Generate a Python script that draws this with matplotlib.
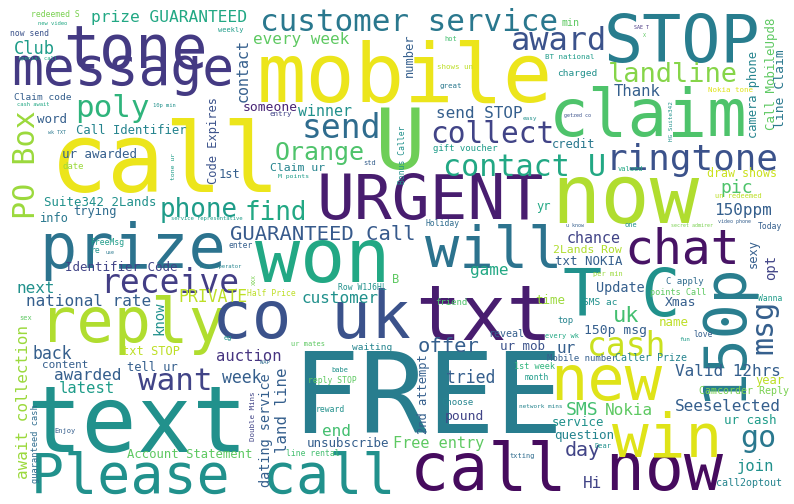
import matplotlib
matplotlib.use("Agg")
import matplotlib.pyplot as plt

# word cloud of spam terms: words and their weights (font size in px ~ frequency)
big_words = ["call", "FREE", "mobile", "text", "txt", "now", "won", "T C",
             "claim", "STOP", "tone", "prize", "reply", "co uk", "call now",
             "Please call", "new", "win", "URGENT", "message", "will", "chat",
             "U", "150p"]
big_weights = [96, 113, 82, 92, 76, 82, 75, 65,
               66, 65, 60, 62, 62, 66, 65,
               55, 62, 61, 63, 53, 57, 48,
               84, 58]

mid_words = ["receive", "send", "cash", "ringtone", "customer service", "award",
             "collect", "contact U", "want", "poly", "PO Box", "msg", "go",
             "landline", "phone", "find", "Orange", "uk", "GUARANTEED Call",
             "offer", "day"]
mid_weights = [33, 33, 33, 36, 31, 32,
               29.5, 30, 31, 31, 30, 30, 30,
               27, 26, 26, 25, 22, 20.5,
               20.5, 20]

small_words = ["prize GUARANTEED", "every week", "Club", "Thank", "contact", "winner",
               "send STOP", "chance", "pic", "150ppm", "next", "PRIVATE",
               "national rate", "customer", "game", "back", "auction", "awarded",
               "week", "latest", "await collection", "land line", "tried", "end",
               "Free entry", "Valid 12hrs", "SMS", "Nokia", "Seeselected", "join",
               "Hi", "ur", "know", "dating service", "Update", "opt"]
small_weights = [16.3, 16, 17, 15.6, 15, 15,
                 16, 15, 18, 16, 16, 16.5,
                 16, 16, 16, 16.5, 15.5, 16,
                 16.5, 15.5, 16, 15.8, 16.5, 16,
                 15.3, 16, 18, 16, 16, 15.5,
                 16, 16, 14, 13.5, 13.5, 14]

minor_words = ["Call Identifier", "word", "ur awarded", "someone", "Code Expires", "1st",
               "number", "credit", "camera phone", "Call MobileUpd8", "line Claim",
               "Suite342 2Lands", "info", "trying", "Identifier Code", "txt STOP",
               "content", "tell ur", "Account Statement", "2nd attempt", "pound",
               "unsubscribe", "ur mob", "Claim ur", "draw shows", "yr", "2Lands Row",
               "txt NOKIA", "sexy", "time", "Xmas", "name", "150p msg", "year",
               "service", "ur cash", "question", "B", "min", "reveal"]
minor_weights = [12.3, 12.5, 12.5, 13, 12, 12,
                 12, 12, 12, 12.4, 13,
                 12.4, 12, 12, 12.5, 12,
                 11, 12, 12.3, 12, 13,
                 12.5, 12.5, 11.5, 11.6, 12, 11.5,
                 12.4, 12, 12.5, 13, 12.5, 13, 12,
                 12.4, 12.5, 12.5, 12, 10, 10]

tiny_words = ["redeemed S", "new video", "now send", "special call", "Claim code",
              "cash await", "10p min", "wk TXT", "date", "tone ur", "weekly", "hot",
              "shows un", "great", "entry", "Bonus Caller", "gift voucher", "std",
              "M points", "easy", "SAE T", "X", "BT national", "charged",
              "Nokia tone", "getzed co", "HG Suite342", "valued", "un redeemed",
              "u know", "one", "secret admirer", "video phone", "Today", "per min",
              "C apply", "points Call", "SMS ac", "Wanna", "top", "every wk", "love",
              "fun", "Mobile number", "Caller Prize", "1st week", "month",
              "network mins", "Camcorder Reply", "Dear", "call2optout", "txting",
              "sex", "XXX", "eg", "WAP", "Enjoy", "guaranteed cash", "Double Mins",
              "ur mates", "waiting", "babe", "reply STOP", "reward", "Choose",
              "line rental", "Holiday", "Row W1J6HL", "Half Price", "friend",
              "service representative", "FreeMsg", "re", "use", "enter",
              "live operator"]
tiny_weights = [8, 5.5, 8, 5.5, 9.5,
                5.5, 5.5, 5, 9, 6.5, 7, 7,
                7.5, 7.5, 7.5, 8, 9, 7,
                6.5, 6, 5, 5, 7.5, 9.5,
                7.5, 5, 6, 7, 7,
                5, 7, 5, 5, 8, 7,
                9, 8.5, 9.5, 8, 9, 7, 8,
                6, 9, 10, 8.5, 8,
                6, 10, 7, 10, 7,
                7, 6, 7, 5.5, 7, 8.6, 7.5,
                7, 9.5, 7, 8, 8, 9,
                8, 8, 8, 8, 9,
                5.5, 8, 8, 5, 8,
                5.5]

# layout: centre x, baseline y (px), rotation, viridis shade
spots = {
    "call": (165, 192, 0, 0.97), "FREE": (427, 433, 0, 0.42),
    "mobile": (405, 102, 0, 0.97), "text": (137, 452, 0, 0.5),
    "txt": (484, 340, 0, 0.08), "now": (625, 223, 0, 0.88),
    "won": (323, 282, 0, 0.6), "T C": (622, 316, 0, 0.5),
    "claim": (648, 136, 0, 0.72), "STOP": (682, 62, 0, 0.42),
    "tone": (135, 68, 0, 0.17), "prize": (133, 268, 0, 0.38),
    "reply": (132, 342, 0, 0.88), "co uk": (311, 338, 0, 0.25),
    "call now": (566, 490, 0, 0.03), "Please call": (213, 493, 0, 0.5),
    "new": (606, 400, 0, 0.95), "win": (667, 456, 0, 0.95),
    "URGENT": (430, 219, 0, 0.08), "message": (123, 85, 0, 0.17),
    "will": (494, 267, 0, 0.38), "chat": (682, 264, 0, 0.05),
    "U": (400, 169, 0, 0.78), "150p": (740, 331, 90, 0.42),

    "receive": (170, 293, 0, 0.18), "send": (341, 138, 0, 0.35),
    "cash": (627, 356, 0, 0.92), "ringtone": (692, 170, 0, 0.25),
    "customer service": (409, 31, 0, 0.4), "award": (559, 50, 0, 0.25),
    "collect": (492, 143, 0, 0.2), "contact U": (525, 176, 0, 0.6),
    "want": (175, 390, 0, 0.2), "poly": (112, 117, 0, 0.65),
    "PO Box": (35, 165, 90, 0.85), "msg": (772, 327, 90, 0.3),
    "go": (758, 447, 0, 0.4), "landline": (673, 82, 0, 0.82),
    "phone": (199, 217, 0, 0.55), "find": (276, 220, 0, 0.6),
    "Orange": (320, 160, 0, 0.72), "uk": (626, 322, 0, 0.7),
    "GUARANTEED Call": (323, 240, 0, 0.28), "offer": (449, 352, 0, 0.3),
    "day": (583, 456, 0, 0.2),

    "prize GUARANTEED": (169, 22, 0, 0.6), "every week": (301, 44, 0, 0.75),
    "Club": (34, 54, 0, 0.55), "Thank": (637, 96, 0, 0.3),
    "contact": (248, 70, 90, 0.3), "winner": (325, 116, 0, 0.5),
    "send STOP": (479, 118, 0, 0.3), "chance": (594, 243, 0, 0.2),
    "pic": (737, 193, 0, 0.72), "150ppm": (743, 215, 0, 0.3),
    "next": (36, 293, 0, 0.5), "PRIVATE": (213, 302, 0, 0.9),
    "national rate": (89, 306, 0, 0.3), "customer": (340, 303, 0, 0.5),
    "game": (489, 275, 0, 0.6), "back": (52, 359, 0, 0.3),
    "auction": (249, 361, 0, 0.15), "awarded": (88, 380, 0, 0.3),
    "week": (242, 383, 0, 0.3), "latest": (87, 393, 0, 0.55),
    "await collection": (28, 402, 90, 0.85), "land line": (287, 410, 90, 0.3),
    "tried": (471, 383, 0, 0.3), "end": (336, 436, 0, 0.7),
    "Free entry": (439, 448, 0, 0.75), "Valid 12hrs": (728, 376, 0, 0.3),
    "SMS": (582, 415, 0, 0.7), "Nokia": (629, 415, 0, 0.75),
    "Seeselected": (728, 411, 0, 0.3), "join": (755, 471, 0, 0.5),
    "Hi": (593, 488, 0, 0.2), "ur": (566, 353, 0, 0.3),
    "know": (163, 318, 90, 0.5), "dating service": (270, 430, 90, 0.3),
    "Update": (620, 292, 0, 0.3), "opt": (775, 267, 90, 0.2),

    "Call Identifier": (131, 134, 0, 0.45), "word": (52, 123, 0, 0.3),
    "ur awarded": (100, 158, 0, 0.3), "someone": (270, 111, 0, 0.1),
    "Code Expires": (217, 140, 90, 0.25), "1st": (229, 178, 0, 0.3),
    "number": (413, 55, 90, 0.3), "credit": (574, 148, 0, 0.4),
    "camera phone": (757, 94, 90, 0.45), "Call MobileUpd8": (775, 74, 90, 0.75),
    "line Claim": (784, 89, 90, 0.4), "Suite342 2Lands": (100, 206, 0, 0.5),
    "info": (54, 222, 0, 0.4), "trying": (95, 215, 0, 0.35),
    "Identifier Code": (121, 271, 0, 0.2), "txt STOP": (151, 355, 0, 0.9),
    "content": (65, 368, 0, 0.3), "tell ur": (152, 371, 0, 0.3),
    "Account Statement": (190, 458, 0, 0.75), "2nd attempt": (427, 394, 90, 0.3),
    "pound": (464, 420, 0, 0.2), "unsubscribe": (348, 447, 0, 0.3),
    "ur mob": (522, 350, 0, 0.25), "Claim ur": (298, 171, 0, 0.45),
    "draw shows": (742, 177, 0, 0.92), "yr": (544, 210, 0, 0.6),
    "2Lands Row": (587, 253, 0, 0.88), "txt NOKIA": (589, 265, 0, 0.3),
    "sexy": (757, 253, 90, 0.3), "time": (550, 304, 0, 0.85),
    "Xmas": (681, 306, 0, 0.3), "name": (674, 326, 0, 0.9),
    "150p msg": (615, 334, 0, 0.3), "year": (770, 384, 0, 0.9),
    "service": (578, 426, 0, 0.5), "ur cash": (750, 424, 0, 0.55),
    "question": (584, 439, 0, 0.45), "B": (396, 283, 0, 0.75),
    "min": (571, 26, 0, 0.75), "reveal": (506, 337, 0, 0.3),

    "redeemed S": (55, 17, 0, 0.8), "new video": (53, 25, 0, 0.6),
    "now send": (30, 36, 0, 0.25), "special call": (38, 60, 0, 0.6),
    "Claim code": (43, 100, 0, 0.3), "cash await": (33, 106, 0, 0.6),
    "10p min": (164, 107, 0, 0.5), "wk TXT": (57, 134, 0, 0.4),
    "date": (73, 169, 0, 0.85), "tone ur": (175, 166, 90, 0.55),
    "weekly": (231, 32, 0, 0.55), "hot": (451, 41, 0, 0.7),
    "shows un": (455, 69, 0, 0.9), "great": (451, 88, 0, 0.4),
    "entry": (281, 116, 0, 0.2), "Bonus Caller": (405, 155, 90, 0.5),
    "gift voucher": (465, 151, 0, 0.55), "std": (370, 165, 0, 0.3),
    "M points": (294, 178, 0, 0.55), "easy": (530, 120, 0, 0.5),
    "SAE T": (642, 29, 0, 0.15), "X": (644, 37, 0, 0.75),
    "BT national": (570, 59, 0, 0.55), "charged": (577, 76, 0, 0.5),
    "Nokia tone": (731, 92, 0, 0.95), "getzed co": (577, 117, 0, 0.25),
    "HG Suite342": (673, 121, 90, 0.5), "valued": (630, 171, 0, 0.6),
    "un redeemed": (738, 198, 0, 0.9), "u know": (575, 227, 0, 0.3),
    "one": (631, 227, 0, 0.5), "secret admirer": (692, 227, 0, 0.8),
    "video phone": (735, 223, 0, 0.3), "Today": (770, 229, 0, 0.3),
    "per min": (608, 276, 0, 0.85), "C apply": (685, 284, 0, 0.35),
    "points Call": (678, 295, 0, 0.75), "SMS ac": (600, 305, 0, 0.5),
    "Wanna": (770, 301, 0, 0.55), "top": (565, 323, 0, 0.45),
    "every wk": (562, 338, 0, 0.6), "love": (703, 337, 0, 0.3),
    "fun": (685, 341, 0, 0.55), "Mobile number": (582, 361, 0, 0.3),
    "Caller Prize": (651, 361, 0, 0.45), "1st week": (535, 369, 0, 0.65),
    "month": (537, 380, 0, 0.55), "network mins": (541, 408, 0, 0.45),
    "Camcorder Reply": (744, 394, 0, 0.8), "Dear": (603, 448, 0, 0.5),
    "call2optout": (749, 486, 0, 0.45), "txting": (522, 458, 0, 0.35),
    "sex": (26, 320, 0, 0.75), "XXX": (256, 280, 90, 0.8),
    "eg": (228, 340, 0, 0.5), "WAP": (265, 364, 0, 0.35),
    "Enjoy": (65, 433, 0, 0.3), "guaranteed cash": (38, 444, 90, 0.35),
    "Double Mins": (255, 416, 90, 0.2), "ur mates": (308, 346, 0, 0.75),
    "waiting": (372, 350, 0, 0.45), "babe": (340, 372, 0, 0.5),
    "reply STOP": (332, 383, 0, 0.75), "reward": (330, 412, 0, 0.5),
    "Choose": (457, 405, 0, 0.45), "line rental": (313, 456, 0, 0.7),
    "Holiday": (443, 226, 0, 0.35), "Row W1J6HL": (362, 290, 0, 0.5),
    "Half Price": (271, 296, 0, 0.9), "friend": (451, 305, 0, 0.72),
    "service representative": (207, 220, 0, 0.55), "FreeMsg": (107, 245, 0, 0.55),
    "re": (95, 253, 0, 0.5), "use": (110, 254, 0, 0.4),
    "enter": (241, 248, 0, 0.3), "live operator": (220, 268, 0, 0.45),
}

words = big_words + mid_words + small_words + minor_words + tiny_words
weights = big_weights + mid_weights + small_weights + minor_weights + tiny_weights

W, H, DPI = 794, 504, 100
fig = plt.figure(figsize=(W / DPI, H / DPI), dpi=DPI)
ax = fig.add_axes([0, 0, 1, 1])
ax.set_xlim(0, W)
ax.set_ylim(H, 0)
ax.axis('off')

cmap = plt.get_cmap('viridis')
px_to_pt = 72.0 / DPI

for w, size in zip(words, weights):
    x, y, rot, shade = spots[w]
    ax.text(x, y, w, fontsize=size * px_to_pt, color=cmap(shade),
            family='DejaVu Sans Mono', ha='center', va='baseline',
            rotation=rot, rotation_mode='anchor')

fig.savefig('out.png', dpi=DPI, facecolor='white')
